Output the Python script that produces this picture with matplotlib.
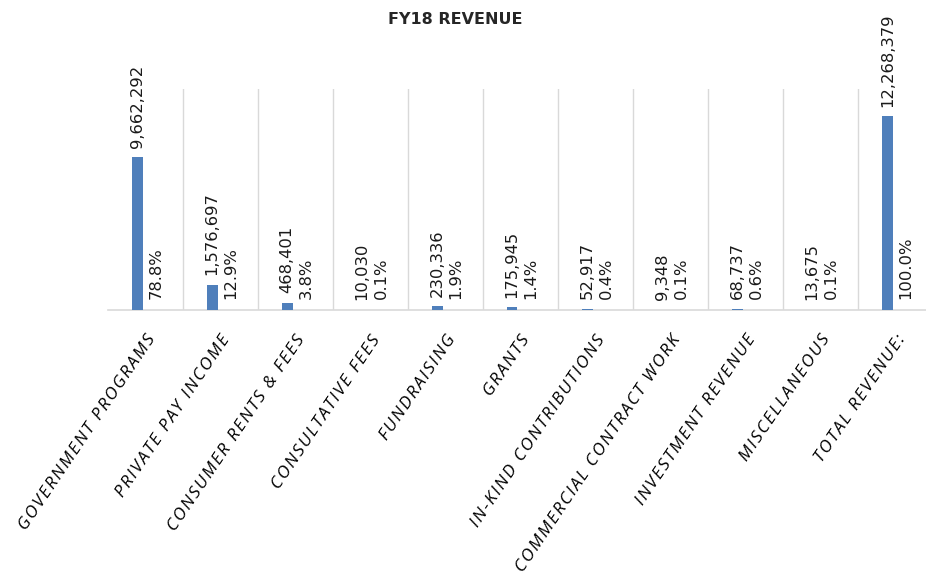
import matplotlib
matplotlib.use("Agg")
import matplotlib.pyplot as plt
import numpy as np

categories = ['GOVERNMENT PROGRAMS', 'PRIVATE PAY INCOME', 'CONSUMER RENTS & FEES',
              'CONSULTATIVE FEES', 'FUNDRAISING', 'GRANTS', 'IN-KIND CONTRIBUTIONS',
              'COMMERCIAL CONTRACT WORK', 'INVESTMENT REVENUE', 'MISCELLANEOUS',
              'TOTAL REVENUE:']
amounts = [9662292, 1576697, 468401, 10030, 230336, 175945, 52917, 9348, 68737,
           13675, 12268379]
percents = [78.8, 12.9, 3.8, 0.1, 1.9, 1.4, 0.4, 0.1, 0.6, 0.1, 100.0]

W, H = 926, 579
fig = plt.figure(figsize=(W / 100, H / 100), dpi=100)
ax = fig.add_axes([108 / W, (H - 310) / H, 825 / W, 221 / H])

x = np.arange(len(categories))
bar_w = 0.14
ax.bar(x - 0.11, amounts, width=bar_w, color='#4f7fbb', zorder=3)

for xi, v in zip(x, amounts):
    ax.annotate('{:,}'.format(v), xy=(xi - 0.11, v), xytext=(0, 7),
                textcoords='offset points', rotation=90, ha='center', va='bottom',
                fontsize=11.8, color='#1a1a1a')

for xi, p in zip(x, percents):
    ax.annotate('{:.1f}%'.format(p), xy=(xi + 0.14, 0), xytext=(0, 8),
                textcoords='offset points', rotation=90, ha='center', va='bottom',
                fontsize=11.8, color='#1a1a1a')

ax.set_xlim(-0.5, len(categories) - 0.5)
ax.set_ylim(0, 14000000)

# category separators
for b in np.arange(0.5, len(categories) - 0.5, 1):
    ax.axvline(b, color='#d9d9d9', lw=1, zorder=1)

for s in ['top', 'left', 'right']:
    ax.spines[s].set_visible(False)
ax.spines['bottom'].set_color('#d9d9d9')
ax.spines['bottom'].set_linewidth(1.2)
ax.set_yticks([])

# spread the letters a little, like the original labels
spaced = ['\u200a'.join(c) for c in categories]
ax.set_xticks(x)
ax.set_xticklabels(spaced, rotation=56, ha='right', rotation_mode='anchor',
                   fontsize=12.5, style='italic', family=['Open Sans', 'DejaVu Sans'])
ax.tick_params(axis='x', length=0, pad=16)

fig.text(455 / W, 1 - 20 / H, 'FY18 REVENUE', ha='center', va='center',
         fontsize=11.5, fontweight='bold', color='#262626')

fig.savefig('out.png', dpi=100)
